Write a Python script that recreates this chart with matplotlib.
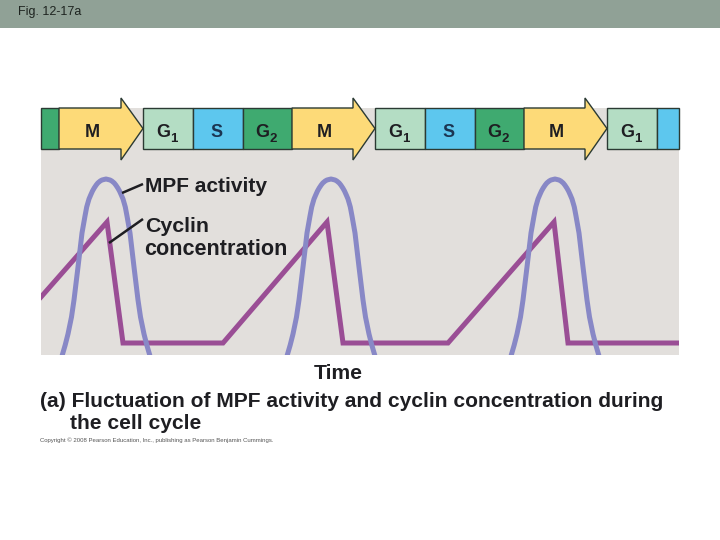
import matplotlib
matplotlib.use('Agg')
import matplotlib.pyplot as plt
from matplotlib.patches import Rectangle, Polygon

# ---------------- data ----------------
phase_names = ['G2', 'M', 'G1', 'S', 'G2', 'M', 'G1', 'S', 'G2', 'M', 'G1', 'S']
phase_bounds = [41, 59, 143, 193, 243, 292, 375, 425, 475, 524, 607, 657, 679]

cyclin_time = [41, 107, 123, 223, 327, 343, 448, 554, 568, 679]
cyclin_level = [58, 133, 12, 12, 133, 12, 12, 133, 12, 12]

# MPF activity: peak times and the shape of one peak (half-width vs. level)
mpf_peak_time = [106, 331, 555]
mpf_halfwidth = [0, 4, 5.8, 8.2, 9.8, 11.8, 13.5, 15.3, 17, 19.3, 21, 24, 28, 32, 34.5, 38, 40.8, 44, 52]
mpf_level = [176, 175, 174, 172, 170, 167, 164, 160, 156, 148, 139, 122, 88, 55, 38, 21, 10, -1, -16]

fig_label = 'Fig. 12-17a'
x_label = 'Time'
caption_1 = '(a) Fluctuation of MPF activity and cyclin concentration during'
caption_2 = 'the cell cycle'
copyright_text = 'Copyright © 2008 Pearson Education, Inc., publishing as Pearson Benjamin Cummings.'

# ---------------- style ----------------
phase_colors = {'M': '#FDDA78', 'G1': '#B4DDC4', 'S': '#5DC7EE', 'G2': '#3FAA70'}
edge_c = '#2B3A33'
bg_c = '#E2DFDC'
banner_c = '#90A196'
cyclin_c = '#9A4E95'
mpf_c = '#8888C6'
txt_c = '#1E1E22'
FONT = 'Liberation Sans'

W, H = 720, 540
fig = plt.figure(figsize=(W / 100, H / 100), dpi=100)
fig.patch.set_facecolor('white')

# overlay axes in pixel coordinates (top-left origin)
ov = fig.add_axes([0, 0, 1, 1])
ov.set_xlim(0, W)
ov.set_ylim(H, 0)
ov.axis('off')
ov.add_patch(Rectangle((0, 0), W, 28, facecolor=banner_c, edgecolor='none'))

# main axes: x = time, y = level
x0, x1, ytop, ybot = 41, 679, 108, 355
ax = fig.add_axes([x0 / W, (H - ybot) / H, (x1 - x0) / W, (ybot - ytop) / H])
ax.set_xlim(x0, x1)
ax.set_ylim(0, ybot - ytop)
ax.set_facecolor(bg_c)
for s in ax.spines.values():
    s.set_visible(False)
ax.set_xticks([])
ax.set_yticks([])

# phase bar
bar_lo, bar_hi = 206, 247
head_lo, head_hi = 195, 257
tip = 22
for name, s, e in zip(phase_names, phase_bounds[:-1], phase_bounds[1:]):
    col = phase_colors[name]
    if name == 'M':
        b = e - tip
        poly = Polygon([(s, bar_lo), (b, bar_lo), (b, head_lo), (e, (bar_lo + bar_hi) / 2),
                        (b, head_hi), (b, bar_hi), (s, bar_hi)], closed=True,
                       facecolor=col, edgecolor=edge_c, lw=1.0, clip_on=False, zorder=3)
        ax.add_patch(poly)
        cx = (s + b) / 2 + 2
    else:
        ax.add_patch(Rectangle((s, bar_lo), e - s, bar_hi - bar_lo, facecolor=col,
                               edgecolor=edge_c, lw=1.0, clip_on=False, zorder=2))
        cx = (s + e) / 2
    if e - s < 30:
        continue
    base = 218
    if name == 'M':
        ax.text(cx, base, 'M', ha='center', va='baseline', fontsize=13, fontweight='bold',
                color=txt_c, family=FONT, zorder=5)
    elif name == 'S':
        ax.text(cx - 1.5, base, 'S', ha='center', va='baseline', fontsize=13, fontweight='bold',
                color='#1B3552', family=FONT, zorder=5)
    else:
        ax.text(cx + 2, base, 'G', ha='right', va='baseline', fontsize=13, fontweight='bold',
                color=txt_c, family=FONT, zorder=5)
        ax.text(cx + 2.5, base - 5, name[1], ha='left', va='baseline', fontsize=9.5,
                fontweight='bold', color=txt_c, family=FONT, zorder=5)

# curves
ax.plot(cyclin_time, cyclin_level, color=cyclin_c, lw=3.6, solid_joinstyle='miter', zorder=3)
for c in mpf_peak_time:
    xs = [c - w for w in mpf_halfwidth[::-1]] + [c + w for w in mpf_halfwidth[1:]]
    ys = mpf_level[::-1] + mpf_level[1:]
    ax.plot(xs, ys, color=mpf_c, lw=3.6, zorder=4, solid_capstyle='round',
            solid_joinstyle='round')

# annotations
ax.plot([122, 143], [162, 171], color='#1E1E22', lw=1.8, zorder=6, solid_capstyle='butt')
ax.plot([109, 143], [112, 136], color='#1E1E22', lw=1.8, zorder=6, solid_capstyle='butt')
ax.text(145, 163, 'MPF activity', ha='left', va='baseline', fontsize=15, fontweight='bold',
        color=txt_c, family=FONT, zorder=6)
ax.text(145, 122.5, 'Cyclin', ha='left', va='baseline', fontsize=15.4, fontweight='bold',
        color=txt_c, family=FONT, zorder=6)
ax.text(144, 100, 'concentration', ha='left', va='baseline', fontsize=15.6, fontweight='bold',
        color=txt_c, family=FONT, zorder=6)

# captions
ov.text(18, 15, fig_label, ha='left', va='baseline', fontsize=9, color='#1E2420',
        family=['Liberation Sans Narrow', FONT])
ov.text(338, 379, x_label, ha='center', va='baseline', fontsize=15.2, fontweight='bold',
        color=txt_c, family=FONT)
ov.text(40, 407, caption_1, ha='left', va='baseline', fontsize=15.15, fontweight='bold',
        color=txt_c, family=FONT)
ov.text(70, 429, caption_2, ha='left', va='baseline', fontsize=15.15, fontweight='bold',
        color=txt_c, family=FONT)
ov.text(40, 442, copyright_text, ha='left', va='baseline', fontsize=4.3, color='#555555',
        family=['Liberation Sans Narrow', FONT])

fig.savefig('out.png', dpi=100, facecolor='white')
